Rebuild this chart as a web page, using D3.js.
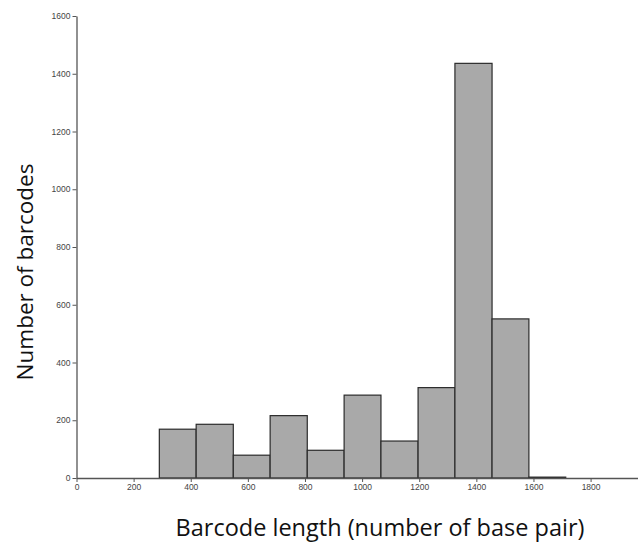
<!DOCTYPE html>
<html>
<head>
<meta charset="utf-8">
<script src="https://cdnjs.cloudflare.com/ajax/libs/d3/7.8.5/d3.min.js"></script>
<style>
  body { margin: 0; background: #fff; }
  svg { display: block; }
</style>
</head>
<body>
<div id="chart"></div>
<script>
// histogram bins (bp) and counts
const binStart = [290, 419, 549, 678, 808, 937, 1066, 1196, 1325, 1455, 1584]
const binEnd   = [419, 549, 678, 808, 937, 1066, 1196, 1325, 1455, 1584, 1713]
const counts   = [169, 186, 79, 216, 96, 287, 128, 313, 1436, 551, 3]
const xTicks = [0, 200, 400, 600, 800, 1000, 1200, 1400, 1600, 1800]
const yTicks = [0, 200, 400, 600, 800, 1000, 1200, 1400, 1600]

const w = 638, h = 543
const svg = d3.select("#chart").append("svg").attr("width", w).attr("height", h)

const x = d3.scaleLinear().domain([0, 1966]).range([76.5, 638])
const y = d3.scaleLinear().domain([0, 1600]).range([478, 16])

const bins = counts.map((c, i) => ({ x0: binStart[i], x1: binEnd[i], n: c }))

svg.append("g").selectAll("rect").data(bins).join("rect")
  .attr("x", d => x(d.x0))
  .attr("y", d => y(d.n))
  .attr("width", d => x(d.x1) - x(d.x0))
  .attr("height", d => y(0) - y(d.n))
  .attr("fill", "#a9a9a9")
  .attr("stroke", "#2b2b2b")
  .attr("stroke-width", 1.2)

const tickFont = "Liberation Sans, sans-serif"
const fmt = d3.format("d")

const yAxis = svg.append("g").attr("transform", `translate(${x(0)},0)`)
  .call(d3.axisLeft(y).tickValues(yTicks).tickFormat(fmt).tickSize(4).tickSizeOuter(0).tickPadding(2))
yAxis.select(".domain").attr("stroke", "#555").attr("stroke-width", 1.3)
yAxis.selectAll(".tick line").attr("stroke", "#555")
yAxis.selectAll("text").attr("fill", "#444").attr("font-size", 8.5).attr("font-family", tickFont)

const xAxis = svg.append("g").attr("transform", `translate(0,${y(0)})`)
  .call(d3.axisBottom(x).tickValues(xTicks).tickFormat(fmt).tickSize(4).tickSizeOuter(0).tickPadding(2))
xAxis.select(".domain").attr("stroke", "#555").attr("stroke-width", 1.3)
xAxis.selectAll(".tick line").attr("stroke", "#555")
xAxis.selectAll("text").attr("fill", "#444").attr("font-size", 8.5).attr("font-family", tickFont)

svg.append("text")
  .attr("transform", "translate(33,272) rotate(-90)")
  .attr("text-anchor", "middle")
  .attr("font-family", "Open Sans, sans-serif")
  .attr("font-size", 22.5)
  .attr("fill", "#111")
  .text("Number of barcodes")

svg.append("text")
  .attr("x", 380).attr("y", 536)
  .attr("text-anchor", "middle")
  .attr("font-family", "Open Sans, sans-serif")
  .attr("font-size", 23.5)
  .attr("fill", "#111")
  .text("Barcode length (number of base pair)")
</script>
</body>
</html>
